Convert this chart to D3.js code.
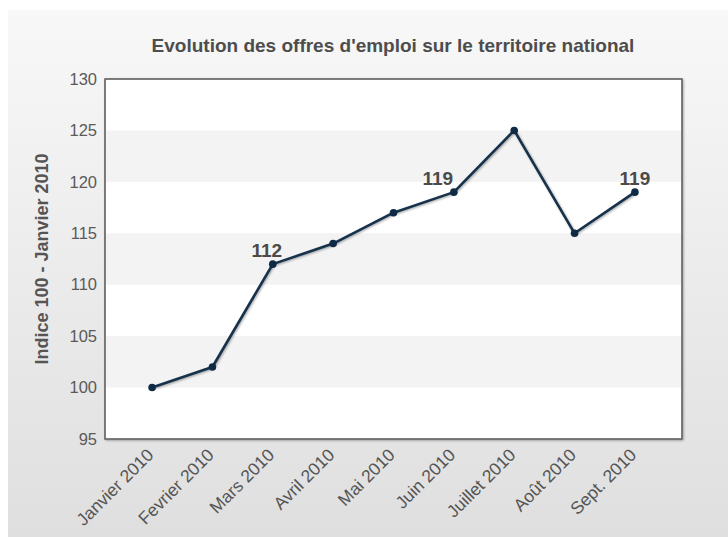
<!DOCTYPE html>
<html><head><meta charset="utf-8">
<script src="https://cdn.jsdelivr.net/npm/d3@7"></script>
<style>html,body{margin:0;padding:0;background:#fff;}svg{display:block;}</style>
</head><body>
<svg id="c" width="728" height="537"></svg>
<script>
const categories = ["Janvier 2010","Fevrier 2010","Mars 2010","Avril 2010","Mai 2010","Juin 2010","Juillet 2010","Août 2010","Sept. 2010"];
const values = [100, 102, 112, 114, 117, 119, 125, 115, 119];
const yTicks = [95, 100, 105, 110, 115, 120, 125, 130];
const labelledIndexes = [2, 5, 8];
const title = "Evolution des offres d'emploi sur le territoire national";
const yTitle = "Indice 100 - Janvier 2010";

const W = 728, H = 537;
const m = {left: 105, right: 46, top: 79, bottom: 98};
const FONT = "Liberation Sans, Arial, sans-serif";
const svg = d3.select("#c");
const defs = svg.append("defs");
const g1 = defs.append("linearGradient").attr("id","bg").attr("x1",0).attr("y1",0).attr("x2",0).attr("y2",1);
g1.append("stop").attr("offset","0%").attr("stop-color","#f8f8f8");
g1.append("stop").attr("offset","100%").attr("stop-color","#dfdfdf");
const sh = defs.append("filter").attr("id","sh").attr("x","-10%").attr("y","-10%").attr("width","130%").attr("height","130%");
sh.append("feDropShadow").attr("dx",1).attr("dy",1).attr("stdDeviation",1).attr("flood-color","#000").attr("flood-opacity",0.35);

svg.append("rect").attr("x",8).attr("y",10).attr("width",W-8).attr("height",H-10).attr("fill","url(#bg)");

const x = d3.scalePoint().domain(categories).range([m.left, W - m.right]).padding(0.78);
const y = d3.scaleLinear().domain([95,130]).range([H - m.bottom, m.top]);
const pw = W - m.left - m.right;

svg.append("rect").attr("x",m.left).attr("y",m.top).attr("width",pw).attr("height",y(95)-y(130))
  .attr("fill","#fff").attr("stroke","#666").attr("stroke-width",1.2).attr("filter","url(#sh)");
for (let i = 0; i < yTicks.length - 1; i++) {
  if (i % 2 === 1) {
    svg.append("rect").attr("x",m.left+1).attr("width",pw-2)
      .attr("y", y(yTicks[i+1])).attr("height", y(yTicks[i]) - y(yTicks[i+1]))
      .attr("fill","#f3f3f3");
  }
}
svg.append("rect").attr("x",m.left).attr("y",m.top).attr("width",pw).attr("height",y(95)-y(130))
  .attr("fill","none").attr("stroke","#666").attr("stroke-width",1.2);

const yAxis = d3.axisLeft(y).tickValues(yTicks).tickSize(0).tickPadding(8);
const ya = svg.append("g").attr("transform",`translate(${m.left},0)`).call(yAxis);
ya.select(".domain").remove();
ya.selectAll("text").attr("font-family",FONT).attr("font-size",16.5).attr("fill","#5a5a5a");

const xAxis = d3.axisBottom(x).tickSize(0).tickPadding(0);
const xa = svg.append("g").attr("transform",`translate(0,${y(95)})`).call(xAxis);
xa.select(".domain").remove();
xa.selectAll("text").attr("font-family",FONT).attr("font-size",17.5).attr("fill","#555")
  .attr("text-anchor","end").attr("dy",0).attr("transform","translate(2,17) rotate(-45)");

const line = d3.line().x((d,i)=>x(categories[i])).y(d=>y(d));
svg.append("path").datum(values).attr("d",line).attr("fill","none").attr("stroke","#15304b")
  .attr("stroke-width",2.6).attr("stroke-linejoin","round").attr("filter","url(#sh)");
svg.selectAll("circle.pt").data(values).enter().append("circle").attr("class","pt")
  .attr("cx",(d,i)=>x(categories[i])).attr("cy",d=>y(d)).attr("r",3.8).attr("fill","#0f2a45");

const labelDx = {2: -6, 5: -16, 8: 0};
svg.selectAll("text.dl").data(labelledIndexes).enter().append("text").attr("class","dl")
  .attr("x", i => x(categories[i]) + labelDx[i]).attr("y", i => y(values[i]) - 7)
  .attr("text-anchor","middle").attr("font-family",FONT)
  .attr("font-weight","bold").attr("font-size",19).attr("fill","#4a4a4a").text(i => values[i]);

svg.append("text").attr("x",393).attr("y",52).attr("text-anchor","middle")
  .attr("font-family",FONT).attr("font-size",19)
  .attr("font-weight","bold").attr("fill","#4d4d4d").text(title);
svg.append("text").attr("transform",`translate(48,${(y(95)+y(130))/2}) rotate(-90)`).attr("text-anchor","middle")
  .attr("font-family",FONT).attr("font-size",18).attr("font-weight","bold")
  .attr("fill","#555").text(yTitle);
</script>
</body></html>
